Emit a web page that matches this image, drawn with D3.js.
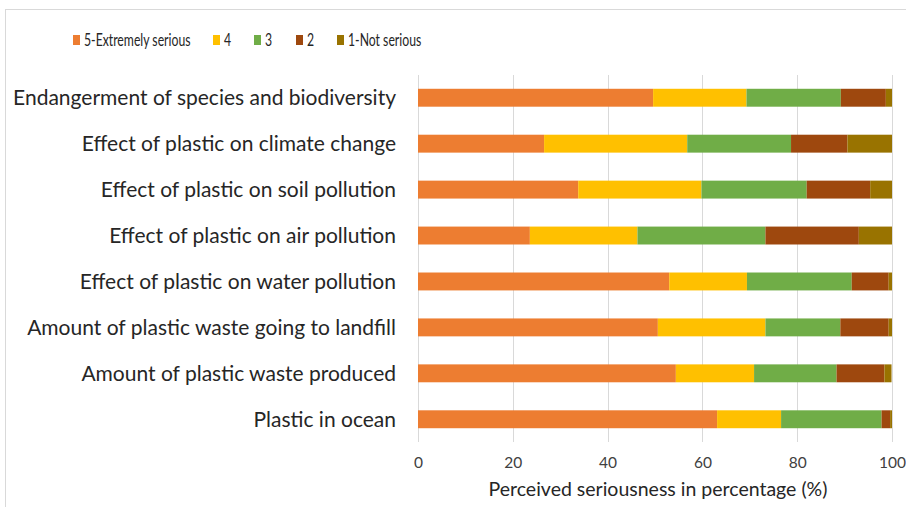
<!DOCTYPE html>
<meta charset="utf-8">
<html>
  <head>
    <script src="https://d3js.org/d3.v7.min.js"></script>
    <style>
      body { margin: 0; background: #fff; font-family: Lato, "Open Sans", sans-serif; }
      .grid line { stroke: #d9d9d9; stroke-width: 1; shape-rendering: crispEdges; }
      .grid path { display: none; }
      .xaxis path, .xaxis line { display: none; }
      .xaxis text { font-size: 15.5px; fill: #404040; font-family: Lato, sans-serif; }
    </style>
  </head>
  <body>
    <div id="plot"></div>
  <script>
    // categories, top to bottom
    var categories = [
      "Endangerment of species and biodiversity",
      "Effect of plastic on climate change",
      "Effect of plastic on soil pollution",
      "Effect of plastic on air pollution",
      "Effect of plastic on water pollution",
      "Amount of plastic waste going to landfill",
      "Amount of plastic waste produced",
      "Plastic in ocean"
    ];
    var seriesNames = ["5-Extremely serious", "4", "3", "2", "1-Not serious"];
    var s5 = [49.6, 26.6, 33.8, 23.6, 53.0, 50.6, 54.4, 63.1];
    var s4 = [19.7, 30.2, 26.0, 22.7, 16.4, 22.7, 16.5, 13.5];
    var s3 = [19.9, 21.9, 22.2, 27.0, 22.1, 15.8, 17.4, 21.2];
    var s2 = [9.5, 11.9, 13.4, 19.7, 7.8, 10.2, 10.1, 1.8];
    var s1 = [1.3, 9.4, 4.6, 7.0, 0.7, 0.7, 1.5, 0.4];
    var xTicks = [0, 20, 40, 60, 80, 100];
    var colors = ["#ED7D31", "#FFC000", "#70AD47", "#9E480E", "#997300"];

    var W = 906, H = 507;
    var margin = {top: 75, right: 14, bottom: 65, left: 418};
    var width = W - margin.left - margin.right,
        height = H - margin.top - margin.bottom;

    var svg = d3.select("#plot").append("svg")
        .attr("width", W)
        .attr("height", H);

    // chart frame
    svg.append("rect")
        .attr("x", 5.5).attr("y", 9.5)
        .attr("width", 1000).attr("height", 1000)
        .style("fill", "none")
        .style("stroke", "#d9d9d9");

    var g = svg.append("g")
        .attr("transform", "translate(" + margin.left + "," + margin.top + ")");

    var x = d3.scaleLinear().domain([0, 100]).range([0, width]);
    var y = d3.scaleBand().domain(categories).range([0, height]).paddingInner(0.61).paddingOuter(0.3);

    // gridlines
    g.append("g")
        .attr("class", "grid")
        .attr("transform", "translate(0," + height + ")")
        .call(d3.axisBottom(x).tickValues(xTicks).tickSize(-height).tickFormat(""));

    // stacked data
    var series = [s5, s4, s3, s2, s1];
    var rows = categories.map(function(c, i) {
      var r = {cat: c};
      seriesNames.forEach(function(n, k) { r[n] = series[k][i]; });
      return r;
    });
    var stacked = d3.stack().keys(seriesNames)(rows);

    g.selectAll(".layer")
        .data(stacked)
      .enter().append("g")
        .attr("class", "layer")
        .style("fill", function(d, i) { return colors[i]; })
      .selectAll("rect")
        .data(function(d) { return d; })
      .enter().append("rect")
        .attr("x", function(d) { return x(d[0]); })
        .attr("width", function(d) { return x(d[1]) - x(d[0]); })
        .attr("y", function(d) { return y(d.data.cat); })
        .attr("height", y.bandwidth());

    // category labels
    g.selectAll(".cat")
        .data(categories)
      .enter().append("text")
        .attr("class", "cat")
        .attr("x", -22)
        .attr("y", function(d) { return y(d) + y.bandwidth() / 2; })
        .attr("dy", "0.35em")
        .style("text-anchor", "end")
        .style("font-size", "21px")
        .style("fill", "#262626")
        .text(function(d) { return d; });

    // x axis
    g.append("g")
        .attr("class", "xaxis")
        .attr("transform", "translate(0," + height + ")")
        .call(d3.axisBottom(x).tickValues(xTicks).tickSize(0).tickPadding(15));

    svg.append("text")
        .attr("x", 658)
        .attr("y", 496)
        .style("text-anchor", "middle")
        .style("font-size", "19.5px")
        .style("fill", "#262626")
        .text("Perceived seriousness in percentage (%)");

    // legend
    var legX = [73, 213, 254, 296, 337];
    var leg = svg.selectAll(".legend")
        .data(seriesNames)
      .enter().append("g")
        .attr("class", "legend")
        .attr("transform", function(d, i) { return "translate(" + legX[i] + ",40)"; });
    leg.append("rect")
        .attr("x", 0).attr("y", -5)
        .attr("width", 7).attr("height", 10)
        .style("fill", function(d, i) { return colors[i]; });
    leg.append("text")
        .attr("transform", "translate(11,0) scale(0.72,1)")
        .attr("dy", "0.35em")
        .style("font-size", "17px")
        .style("fill", "#262626")
        .text(function(d) { return d; });
  </script>
  </body>
</html>
